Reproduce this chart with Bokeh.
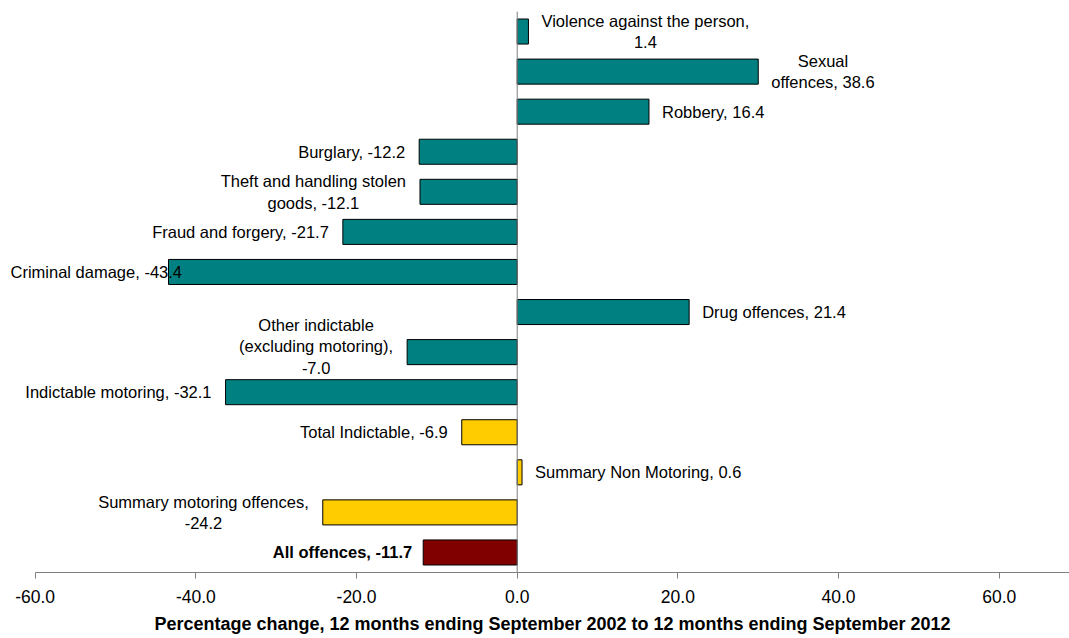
from bokeh.plotting import figure
from bokeh.models import (FactorRange, Range1d, FixedTicker, NumeralTickFormatter, Span,
                          ColumnDataSource)
from bokeh.core.properties import value
from bokeh.embed import file_html
from bokeh.resources import INLINE

# ---------------- data ----------------
categories = [
    "Violence against the person", "Sexual offences", "Robbery", "Burglary",
    "Theft and handling stolen goods", "Fraud and forgery", "Criminal damage",
    "Drug offences", "Other indictable (excluding motoring)", "Indictable motoring",
    "Total Indictable", "Summary Non Motoring", "Summary motoring offences", "All offences",
]
# bar lengths as drawn in the picture
bar_values = [1.4, 30.0, 16.4, -12.2, -12.1, -21.7, -43.4, 21.4, -13.7, -36.3, -6.9, 0.6, -24.2, -11.7]
# values printed in the data labels
label_values = [1.4, 38.6, 16.4, -12.2, -12.1, -21.7, -43.4, 21.4, -7.0, -32.1, -6.9, 0.6, -24.2, -11.7]
label_templates = [
    "Violence against the person,\n{}", "Sexual\noffences, {}", "Robbery, {}", "Burglary, {}",
    "Theft and handling stolen\ngoods, {}", "Fraud and forgery, {}", "Criminal damage, {}",
    "Drug offences, {}", "Other indictable\n(excluding motoring),\n{}", "Indictable motoring, {}",
    "Total Indictable, {}", "Summary Non Motoring, {}", "Summary motoring offences,\n{}", "All offences, {}",
]
groups = ["Indictable"] * 10 + ["Total", "Summary", "Summary", "All"]
group_colors = {"Indictable": "#008080", "Total": "#FFCC00", "Summary": "#FFCC00", "All": "#800000"}
x_ticks = [-60, -40, -20, 0, 20, 40, 60]
x_title = "Percentage change, 12 months ending September 2002 to 12 months ending September 2012"

# ---------------- layout ----------------
W, H = 1069, 638
x_start, x_end = -64.31, 68.74
ppu = W / (x_end - x_start)
FONT = "Liberation Sans"
FS = "16.5px"
AXIS_GRAY = "#7f7f7f"

p = figure(width=W, height=H, x_range=Range1d(x_start, x_end),
           y_range=FactorRange(factors=categories[::-1]),
           output_backend="svg", toolbar_location=None, y_axis_location=None,
           min_border_left=0, min_border_right=0, min_border_top=11, min_border_bottom=66)
p.outline_line_color = None
p.xgrid.visible = False
p.ygrid.visible = False
p.background_fill_color = "white"
p.border_fill_color = "white"

src = ColumnDataSource(dict(cat=categories, val=bar_values,
                            color=[group_colors[g] for g in groups]))
p.hbar(y="cat", left=0, right="val", height=0.625, fill_color="color",
       line_color="black", line_width=1, source=src)

p.add_layout(Span(location=0, dimension="height", line_color=AXIS_GRAY, line_width=1))

ax = p.xaxis[0]
ax.ticker = FixedTicker(ticks=x_ticks)
ax.formatter = NumeralTickFormatter(format="0.0")
ax.bounds = (-60, x_end)
ax.axis_line_color = AXIS_GRAY
ax.major_tick_line_color = AXIS_GRAY
ax.major_tick_out = 6
ax.major_tick_in = 0
ax.minor_tick_line_color = None
ax.major_label_text_font = FONT
ax.major_label_text_font_size = "17.5px"
ax.major_label_text_color = "black"
ax.major_label_standoff = 11
# leading no-break spaces move the centred title to the middle of the chart's plot area
ax.axis_label = "\u00a0" * 7 + x_title
ax.axis_label_text_font = FONT
ax.axis_label_text_font_size = "18px"
ax.axis_label_text_font_style = "bold"
ax.axis_label_text_color = "black"
ax.axis_label_standoff = 8

# ---------------- data labels ----------------
pos = dict(x=[], y=[], t=[], yo=[])
neg = dict(x=[], y=[], t=[], yo=[])
clamp = dict(x=[], y=[], t=[], yo=[])
bold = dict(x=[], y=[], t=[], yo=[])
for c, bv, lv, tpl, g in zip(categories, bar_values, label_values, label_templates, groups):
    txt = tpl.format(f"{lv:.1f}")
    lines = txt.split("\n")
    yo = -6 if len(lines) >= 3 else 0
    if g == "All":
        d = bold; x = bv
    elif bv >= 0:
        d = pos; x = bv
    else:
        right_px = (bv - x_start) * ppu - 14
        est_w = max(len(s) for s in lines) * 7.5
        if right_px - est_w < 10:
            d = clamp; x = x_start
        else:
            d = neg; x = bv
    d["x"].append(x); d["y"].append(c); d["t"].append(txt); d["yo"].append(yo)

common = dict(text_font=value(FONT), text_font_size=FS, text_color="black", text_line_height=1.2)
p.text(x="x", y="y", text="t", source=ColumnDataSource(pos), x_offset=13, y_offset="yo",
       anchor="center_left", text_align="center", **common)
p.text(x="x", y="y", text="t", source=ColumnDataSource(neg), x_offset=-14, y_offset="yo",
       anchor="center_right", text_align="center", **common)
p.text(x="x", y="y", text="t", source=ColumnDataSource(clamp), x_offset=10, y_offset="yo",
       anchor="center_left", text_align="left", **common)
p.text(x="x", y="y", text="t", source=ColumnDataSource(bold), x_offset=-11, y_offset="yo",
       anchor="center_right", text_align="right", text_font_style="bold", **common)

open("out.html", "w").write(file_html(p, INLINE))
